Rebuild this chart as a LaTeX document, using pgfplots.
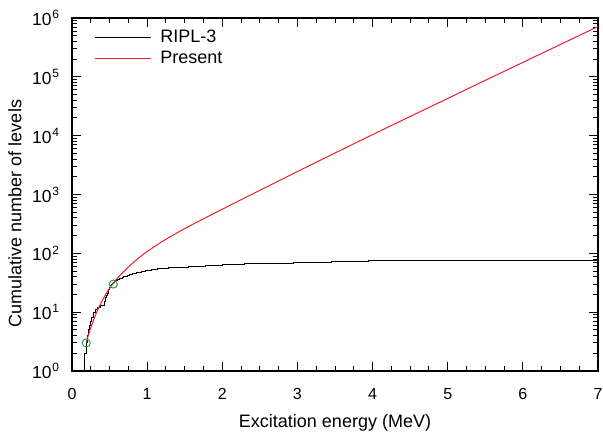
\documentclass[border=0pt]{standalone}
\usepackage{pgfplots}
\pgfplotsset{compat=1.18}
\usepackage{fontspec}
\setmainfont{Liberation Sans}
\definecolor{pres}{RGB}{235,30,40}
\definecolor{matchgreen}{RGB}{20,170,80}
\newcommand{\dec}[1]{10\hspace{0.4pt}\raisebox{3.4pt}{\fontsize{6}{6}\selectfont #1}}
\begin{document}
\begin{tikzpicture}
\begin{axis}[
    name=ax,
    scale only axis,
    width=263pt, height=176.5pt,
    ymode=log,
    xmin=0, xmax=7, ymin=1, ymax=1e6,
    xtick={0,1,2,3,4,5,6,7},
    minor x tick num=3,
    ytick={1,10,100,1000,10000,100000,1000000},
    yticklabels={\dec{0},\dec{1},\dec{2},\dec{3},\dec{4},\dec{5},\dec{6}},
    /pgf/number format/assume math mode=true,
    tick align=inside,
    tick pos=both,
    major tick length=4.5pt,
    minor tick length=2.5pt,
    axis line style={line width=0.6pt},
    every tick/.style={black, line width=0.5pt},
    xticklabel style={font=\fontsize{8}{9}\selectfont, yshift=-5pt},
    yticklabel style={font=\fontsize{8.7}{9}\selectfont, xshift=-3pt},
    xlabel={Excitation energy (MeV)},
    ylabel={Cumulative number of levels},
    label style={font=\fontsize{9}{10}\selectfont},
    xlabel style={at={(axis description cs:0.5,0)}, anchor=center, yshift=-26pt},
    ylabel style={at={(axis description cs:0,0.5)}, anchor=center,
                  yshift=28.5pt, xshift=-9.5pt},
    legend style={at={(axis description cs:0,1)}, anchor=north west,
                  xshift=11pt, yshift=-4.5pt,
                  draw=none, fill=none, inner xsep=0pt, inner ysep=0pt,
                  font=\fontsize{9}{10}\selectfont, row sep=0.5pt, column sep=3.5pt,
                  nodes={inner sep=1pt, text height=6.5pt, text depth=1.5pt},
                  cells={anchor=west}},
    legend image code/.code={\draw[#1] (0pt,0pt) -- (28pt,0pt);},
  ]
% RIPL-3 cumulative levels (step)
\addplot[black, line width=0.5pt, const plot] coordinates {
  (0.160,1) (0.160,2) (0.190,3) (0.205,4) (0.220,5) (0.235,6) (0.250,7)
  (0.265,8) (0.280,9) (0.290,10) (0.310,11) (0.335,12) (0.380,13)
  (0.430,14) (0.437,15) (0.440,16) (0.443,17) (0.447,18) (0.460,19)
  (0.470,20) (0.475,21) (0.480,22) (0.485,23) (0.490,24) (0.495,25)
  (0.505,26) (0.510,27) (0.515,28) (0.520,29) (0.530,30) (0.540,31)
  (0.555,32) (0.570,33) (0.580,34) (0.595,35) (0.610,36) (0.630,37)
  (0.650,38) (0.670,39) (0.690,40) (0.720,41) (0.740,42) (0.770,43)
  (0.790,44) (0.810,45) (0.830,46) (0.860,47) (0.890,48) (0.920,49)
  (0.950,50) (0.980,51) (1.020,52) (1.060,53) (1.100,54) (1.140,55)
  (1.200,56) (1.280,57) (1.380,58) (1.550,59) (1.680,60) (1.780,61)
  (1.880,62) (1.950,63) (2.000,64) (2.050,65) (2.300,66) (2.550,67)
  (2.750,68) (2.950,69) (3.100,70) (3.300,71) (3.450,72) (3.600,73)
  (3.700,74) (3.950,75) (4.150,76) (4.350,77) (7.000,77)};
\addlegendentry{RIPL-3}
% present model
\addplot[pres, line width=0.5pt, smooth] coordinates {
  (0.19,3.020) (0.22,4.121) (0.25,5.433) (0.30,8.128) (0.35,11.48)
  (0.40,15.49) (0.45,20.18) (0.50,25.41) (0.55,31.26) (0.60,37.15)
  (0.70,50.70) (0.80,66.83) (0.90,85.70) (1.00,107.2) (1.20,158.5)
  (1.40,223.9) (1.60,307.6) (1.80,416.9) (2.00,562.3) (2.20,758.6)
  (2.50,1180) (3.00,2455) (3.50,5070) (4.00,10399) (4.50,21184)
  (5.00,42855) (5.50,87096) (6.00,175792) (6.50,354813) (7.00,716143)};
\addlegendentry{Present}
% matching points
\addplot[matchgreen, only marks, mark=o, mark size=2pt, line width=0.5pt, forget plot]
  coordinates {(0.19,3) (0.55,30)};
\end{axis}
\pgfresetboundingbox
\path ([xshift=-36pt,yshift=-33.5pt]ax.south west) rectangle ([xshift=2.5pt,yshift=9pt]ax.north east);
\end{tikzpicture}
\end{document}
